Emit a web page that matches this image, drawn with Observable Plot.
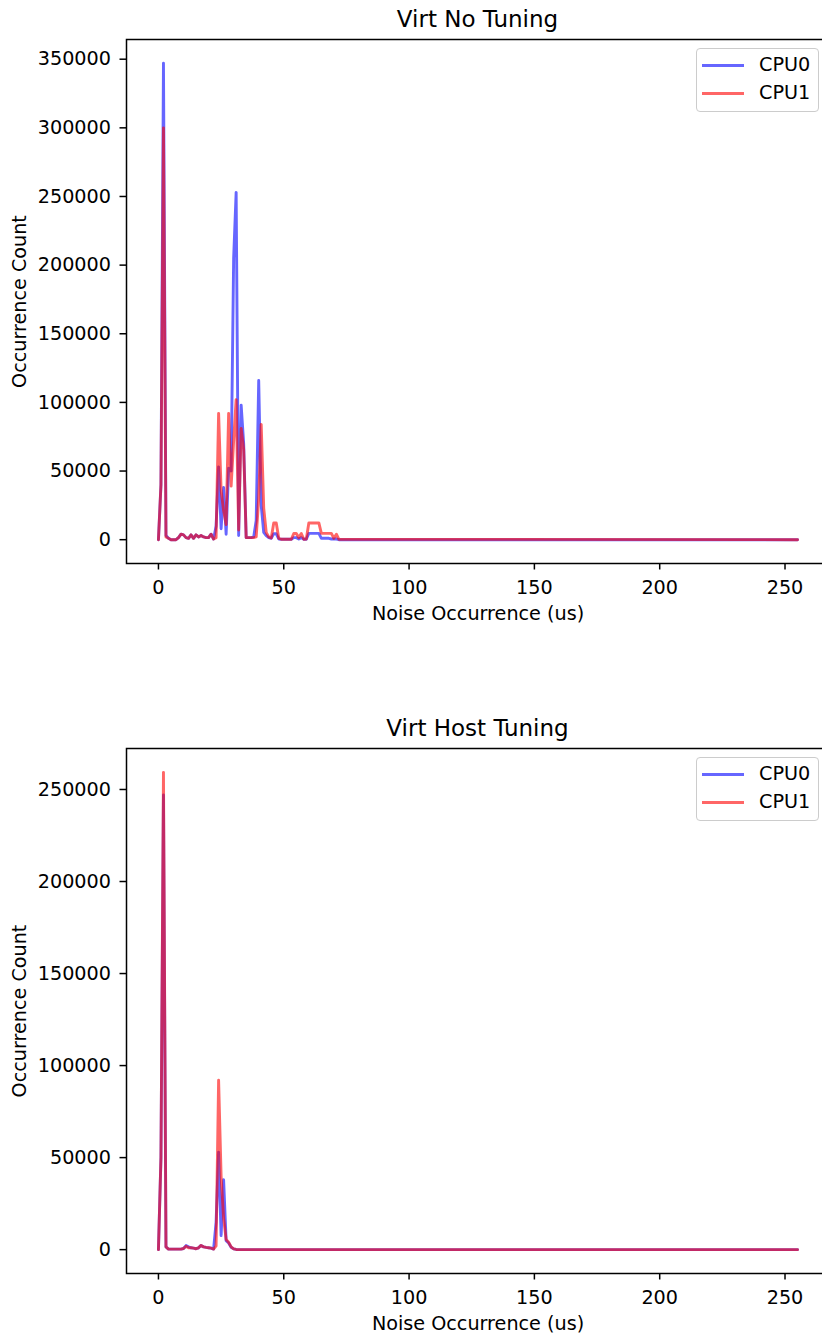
<!DOCTYPE html>
<html>
<head>
<meta charset="utf-8">
<script src="https://cdn.jsdelivr.net/npm/d3@7"></script>
<script src="https://cdn.jsdelivr.net/npm/@observablehq/plot@0.6"></script>
<style>
  html, body { margin: 0; padding: 0; background: #fff; overflow: hidden; width: 822px; height: 1336px; }
  #root { position: relative; width: 822px; height: 1336px; overflow: hidden; font-family: "DejaVu Sans", sans-serif; color: #000; }
  .chart { position: absolute; left: 0; max-width: none !important; }
  .title { position: absolute; left: 277.5px; width: 400px; text-align: center; font-size: 23px; line-height: 23px; white-space: nowrap; }
  .legend { position: absolute; left: 696px; width: 121px; height: 62px; border: 1.5px solid #cccccc; border-radius: 4px; background: rgba(255,255,255,0.8); box-sizing: content-box; }
  .legend .row { position: absolute; left: 0; height: 20px; width: 121px; }
  .legend .sw { position: absolute; left: 5px; top: 9px; width: 42px; height: 3px; opacity: 0.6; }
  .legend .lab { position: absolute; left: 62px; top: 0; font-size: 19.2px; line-height: 20px; }
</style>
</head>
<body>
<div id="root"></div>
<script>
// ---------- data ----------
const titles = ["Virt No Tuning", "Virt Host Tuning"];
const seriesNames = ["CPU0", "CPU1"];
const seriesColors = ["blue", "red"];
const xLabel = "Noise Occurrence (us)";
const yLabel = "Occurrence Count";
const xTicks = [0, 50, 100, 150, 200, 250];
const yTicksNo = [0, 50000, 100000, 150000, 200000, 250000, 300000, 350000];
const yTicksHost = [0, 50000, 100000, 150000, 200000, 250000];

// noise bins (us): 0..72, then last bin 255 (all bins in between are 0)
const binsNo = [0,1,2,3,4,5,6,7,8,9,10,11,12,13,14,15,16,17,18,19,20,21,22,23,24,25,26,27,28,29,30,31,32,33,34,35,36,37,38,39,40,41,42,43,44,45,46,47,48,49,50,51,52,53,54,55,56,57,58,59,60,61,62,63,64,65,66,67,68,69,70,71,72,255];
const noCpu0 = [0,40000,347000,3000,1000,0,0,0,1500,4000,
  3500,1500,1000,3500,1000,3500,2000,3000,2000,1500,
  1500,4000,500,10000,53000,8000,38000,4000,52000,50000,
  205000,253000,3000,98000,70000,1500,1500,1500,2000,14000,
  116000,25000,5300,2900,1500,1000,4300,4300,500,300,
  300,300,300,300,1500,1500,500,1500,300,300,
  4600,4600,4600,4600,4600,1000,1000,1000,1000,500,
  500,500,0,
  0];
const noCpu1 = [0,40000,300000,2000,1000,0,0,0,1500,4000,
  3500,1500,1000,3500,1000,3500,2000,3000,2000,1500,
  1500,4000,500,1500,92000,36000,21000,11000,92000,39000,
  72000,102000,7000,81000,66000,1500,1500,1500,1500,2000,
  30000,84000,23000,5300,2000,1200,12200,12200,1000,300,
  300,300,300,300,4500,4500,1500,4500,300,500,
  12200,12200,12200,12200,12200,4600,4600,4600,4600,4600,
  1000,4000,300,
  0];

const binsHost = [0,1,2,3,4,5,6,7,8,9,10,11,12,13,14,15,16,17,18,19,20,21,22,23,24,25,26,27,28,29,30,31,32,255];
const hostCpu0 = [0,50000,247000,1500,300,300,300,300,300,300,
  600,2200,1500,1000,800,500,1000,2300,1500,1200,
  1000,800,300,15000,53000,7600,38000,4900,3600,1300,
  400,100,0,
  0];
const hostCpu1 = [0,50000,259300,1500,300,300,300,300,300,300,
  600,1800,1000,1000,800,500,1000,2300,1500,1200,
  1000,800,300,2000,92000,40000,17000,5500,4000,1500,
  400,100,0,
  0];

// ---------- drawing ----------
const root = document.getElementById("root");
const fmt = d3.format("d");

function panel({top, marginTop, height, yDomain, yTicks, bins, s0, s1, title, titleTop, legendTop}) {
  const chart = Plot.plot({
    width: 829,
    height,
    marginLeft: 126,
    marginRight: 0,
    marginTop,
    marginBottom: 77,
    x: {domain: [-12.75, 267.75]},
    y: {domain: yDomain},
    style: {fontFamily: "DejaVu Sans, sans-serif", fontSize: "19.2px", color: "black", background: "transparent", overflow: "visible"},
    marks: [
      Plot.line(bins, {x: bins, y: s0, stroke: seriesColors[0], strokeOpacity: 0.6, strokeWidth: 2.9}),
      Plot.line(bins, {x: bins, y: s1, stroke: seriesColors[1], strokeOpacity: 0.6, strokeWidth: 2.9}),
      Plot.frame({stroke: "black", strokeWidth: 1.5}),
      Plot.axisX({ticks: xTicks, tickSize: 6.5, tickPadding: 10, strokeWidth: 1.5, tickFormat: fmt,
        label: xLabel, labelAnchor: "center", labelArrow: "none", labelOffset: 56}),
      Plot.axisY({ticks: yTicks, tickSize: 6.5, tickPadding: 9, strokeWidth: 1.5, tickFormat: fmt,
        label: yLabel, labelAnchor: "center", labelArrow: "none", labelOffset: 114})
    ]
  });
  chart.classList.add("chart");
  chart.style.top = top + "px";
  chart.style.maxWidth = "none";
  chart.style.width = "829px";
  chart.style.height = height + "px";
  root.appendChild(chart);

  const t = document.createElement("div");
  t.className = "title";
  t.style.top = titleTop + "px";
  t.textContent = title;
  root.appendChild(t);

  const lg = document.createElement("div");
  lg.className = "legend";
  lg.style.top = legendTop + "px";
  seriesNames.forEach((name, i) => {
    const row = document.createElement("div");
    row.className = "row";
    row.style.top = (6 + i * 28) + "px";
    const sw = document.createElement("div");
    sw.className = "sw";
    sw.style.background = seriesColors[i];
    const lab = document.createElement("div");
    lab.className = "lab";
    lab.textContent = name;
    row.appendChild(sw);
    row.appendChild(lab);
    lg.appendChild(row);
  });
  root.appendChild(lg);
}

panel({top: 0, marginTop: 39, height: 640, yDomain: [-17350, 364350], yTicks: yTicksNo,
  bins: binsNo, s0: noCpu0, s1: noCpu1, title: titles[0], titleTop: 8, legendTop: 48});
panel({top: 700, marginTop: 48, height: 650, yDomain: [-12965, 272265], yTicks: yTicksHost,
  bins: binsHost, s0: hostCpu0, s1: hostCpu1, title: titles[1], titleTop: 717, legendTop: 757});
</script>
</body>
</html>
